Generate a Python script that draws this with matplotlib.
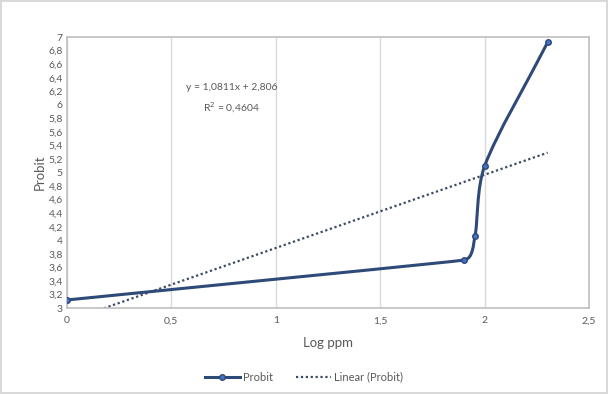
import numpy as np
import matplotlib
matplotlib.use("Agg")
import matplotlib.pyplot as plt
from matplotlib.path import Path
from matplotlib.patches import PathPatch
from matplotlib.lines import Line2D

# data
log_ppm = [0.0, 1.903, 1.954, 2.0, 2.301]
probit = [3.12, 3.71, 4.07, 5.10, 6.92]
slope = 1.0811
intercept = 2.806
eq_text = "y = 1,0811x + 2,806"
r2_text = "R$^2$ = 0,4604"
xticks = [0, 0.5, 1, 1.5, 2, 2.5]
yticks = [3 + 0.2 * i for i in range(21)]

line_col = "#2E4A78"
marker_col = "#4472C4"
txt_col = "#595959"

plt.rcParams["font.family"] = ["Lato", "DejaVu Sans"]


def fmt(v):
    s = ("%.1f" % v).rstrip("0").rstrip(".")
    return s.replace(".", ",")


def smooth_path(xs, ys, sx, sy):
    # smoothed line like excel, worked out in screen-like units so it doesn't overshoot
    pts = np.column_stack([np.array(xs) * sx, np.array(ys) * sy])
    n = len(pts)
    segs = [np.hypot(*(pts[i + 1] - pts[i])) for i in range(n - 1)]
    tang, hand = [], []
    for i in range(n):
        a = pts[max(i - 1, 0)]
        b = pts[min(i + 1, n - 1)]
        d = b - a
        tang.append(d / np.hypot(*d))
        near = [segs[j] for j in (i - 1, i) if 0 <= j < n - 1]
        hand.append(min(near) / 2.0)
    verts = [pts[0]]
    codes = [Path.MOVETO]
    for i in range(n - 1):
        c1 = pts[i] + tang[i] * min(hand[i], segs[i] / 3.0)
        c2 = pts[i + 1] - tang[i + 1] * min(hand[i + 1], segs[i] / 3.0)
        verts += [c1, c2, pts[i + 1]]
        codes += [Path.CURVE4] * 3
    verts = np.array(verts) / [sx, sy]
    return Path(verts, codes)


fig = plt.figure(figsize=(6.08, 3.94), dpi=100)
fig.patch.set_edgecolor("#D9D9D9")
fig.patch.set_linewidth(1.5)
ax = fig.add_axes([0.110, 0.218, 0.859, 0.688])

# trendline over the data range
tx = np.array([min(log_ppm), max(log_ppm)])
ax.plot(tx, slope * tx + intercept, linestyle=(0, (1, 1.2)), color="#3B4A63",
        linewidth=1.6, zorder=2)

patch = PathPatch(smooth_path(log_ppm, probit, 209.0, 67.5), facecolor="none",
                  edgecolor=line_col, linewidth=2.2, zorder=3)
ax.add_patch(patch)
ax.plot(log_ppm, probit, linestyle="none", marker="o", markersize=4,
        markerfacecolor=marker_col, markeredgecolor=line_col, zorder=4)

ax.set_xlim(0, 2.5)
ax.set_ylim(3, 7)
ax.set_xticks(xticks)
ax.set_xticklabels([fmt(v) for v in xticks])
ax.set_yticks(yticks)
ax.set_yticklabels([fmt(v) for v in yticks])
ax.tick_params(length=0, labelsize=7.5, colors=txt_col, pad=6)
ax.tick_params(axis="y", pad=3)
ax.grid(axis="x", color="#D9D9D9", linewidth=1)
ax.set_axisbelow(True)
for s in ax.spines.values():
    s.set_color("#BFBFBF")
    s.set_linewidth(1.2)

ax.set_xlabel("Log ppm", fontsize=9.5, color=txt_col, labelpad=8)
ax.set_ylabel("Probit", fontsize=9.5, color=txt_col, labelpad=2)

ax.text(0.79, 6.26, eq_text, fontsize=7.5, color=txt_col, ha="center", va="center")
ax.text(0.79, 5.96, r2_text, fontsize=7.5, color=txt_col, ha="center", va="center")

handles = [
    Line2D([], [], color=line_col, linewidth=2.2, marker="o", markersize=4,
           markerfacecolor=marker_col, markeredgecolor=line_col),
    Line2D([], [], color="#3B4A63", linewidth=1.6, linestyle=(0, (1, 1.2))),
]
fig.legend(handles, ["Probit", "Linear (Probit)"], loc="center",
           bbox_to_anchor=(0.5, 0.043), ncol=2, frameon=False, fontsize=8,
           labelcolor=txt_col, handlelength=3.2, columnspacing=2, handletextpad=0.3)

fig.savefig("out.png", dpi=100, edgecolor=fig.get_edgecolor())
